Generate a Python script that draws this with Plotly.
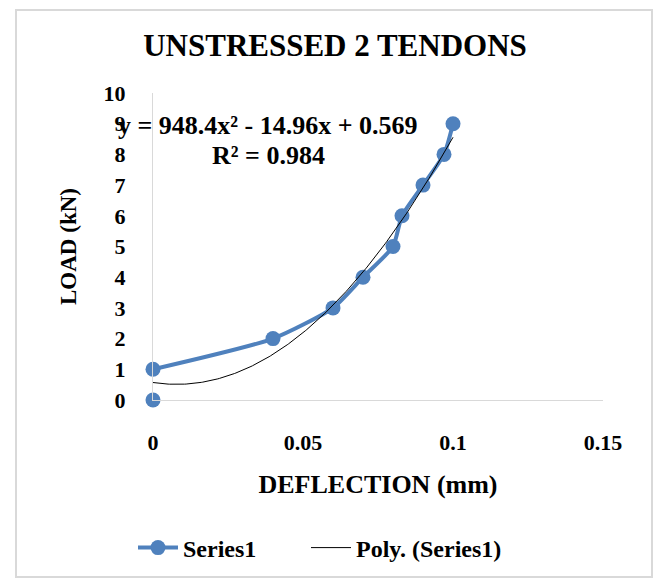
import numpy as np
import plotly.graph_objects as go

# Data
deflection = [0, None, 0, 0.04, 0.06, 0.07, 0.08, 0.083, 0.09, 0.097, 0.1]
load = [0, None, 1, 2, 3, 4, 5, 6, 7, 8, 9]

# Polynomial trendline coefficients as printed on the chart
coef_a, coef_b, coef_c = 948.4, -14.96, 0.569
eq_text = "y = 948.4x² - 14.96x + 0.569"
r2_text = "R² = 0.984"

x_ticks = [0, 0.05, 0.1, 0.15]
x_tick_labels = ["0", "0.05", "0.1", "0.15"]
y_ticks = list(range(0, 11))

xs_valid = [v for v in deflection if v is not None]
trend_x = np.linspace(min(xs_valid), max(xs_valid), 200)
trend_y = coef_a * trend_x ** 2 + coef_b * trend_x + coef_c

FONT = "Liberation Serif"
BLUE = "#4f81bd"
GRAY = "#d9d9d9"

fig = go.Figure()
fig.add_trace(go.Scatter(
    x=deflection, y=load, mode="lines+markers", name="Series1",
    line=dict(color=BLUE, width=4, shape="spline", smoothing=0.6),
    marker=dict(color=BLUE, size=15),
    connectgaps=False, cliponaxis=False, legend="legend",
))
fig.add_trace(go.Scatter(
    x=trend_x, y=trend_y, mode="lines", name="Poly. (Series1)",
    line=dict(color="black", width=1), legend="legend2",
))

legend_common = dict(
    orientation="h", xanchor="left", y=1 - 548 / 579,
    yanchor="middle", xref="container", yref="container",
    font=dict(family=FONT, size=24, weight="bold"),
    itemwidth=40, bgcolor="rgba(0,0,0,0)",
)

fig.update_layout(
    width=656, height=579,
    margin=dict(l=153, r=53, t=93, b=179),
    paper_bgcolor="white", plot_bgcolor="white",
    font=dict(family=FONT, color="black", size=22, weight="bold"),
    title=dict(
        text="UNSTRESSED 2 TENDONS", x=335 / 656, xanchor="center",
        y=1 - 45 / 579, yanchor="middle",
        font=dict(family=FONT, size=31, color="black", weight="bold"),
    ),
    showlegend=True,
    legend=dict(x=133 / 656, **legend_common),
    legend2=dict(x=306 / 656, **legend_common),
    shapes=[dict(
        type="rect", xref="paper", yref="paper",
        x0=(16 - 153) / 450, x1=(652 - 153) / 450,
        y0=(400 - 577) / 307, y1=(400 - 10) / 307,
        line=dict(color=GRAY, width=2), fillcolor="rgba(0,0,0,0)", layer="below",
    )],
    annotations=[
        dict(text=eq_text, xref="paper", yref="paper",
             x=(268 - 153) / 450, y=(400 - 125) / 307, xanchor="center", yanchor="middle",
             showarrow=False, font=dict(family=FONT, size=26, weight="bold")),
        dict(text=r2_text, xref="paper", yref="paper",
             x=(268 - 153) / 450, y=(400 - 155) / 307, xanchor="center", yanchor="middle",
             showarrow=False, font=dict(family=FONT, size=26, weight="bold")),
    ],
)

fig.update_xaxes(
    range=[0, 0.15], tickvals=x_ticks, ticktext=x_tick_labels,
    showgrid=False, zeroline=False, showline=True, linecolor=GRAY, linewidth=1,
    ticks="outside", ticklen=23, tickcolor="rgba(0,0,0,0)",
    tickfont=dict(family=FONT, size=22, weight="bold"),
    title=dict(text="DEFLECTION (mm)", standoff=20,
               font=dict(family=FONT, size=26, weight="bold")),
)
fig.update_yaxes(
    range=[0, 10], tickvals=y_ticks,
    showgrid=False, zeroline=False, showline=True, linecolor=GRAY, linewidth=1,
    ticks="outside", ticklen=22, tickcolor="rgba(0,0,0,0)",
    tickfont=dict(family=FONT, size=22, weight="bold"),
    title=dict(text="LOAD (kN)", standoff=20,
               font=dict(family=FONT, size=23, weight="bold")),
)

fig.write_html("out.html")
